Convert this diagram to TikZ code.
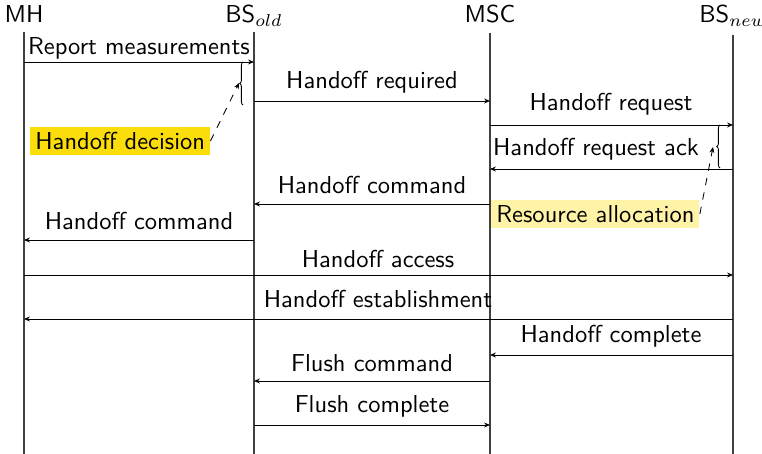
\documentclass[tikz,border=0pt]{standalone}
\usetikzlibrary{arrows.meta,decorations.pathreplacing}
\definecolor{decisionfill}{RGB}{252,221,12}
\definecolor{allocfill}{RGB}{255,243,168}
\begin{document}
\begin{tikzpicture}[x=0.408pt,y=-0.408pt,
  font=\sffamily\fontsize{10}{12}\selectfont,
  lifeline/.style={draw=black!75,line width=0.55pt},
  entity/.style={inner sep=0pt,anchor=base},
  msg/.style={draw,line width=0.35pt,-{Stealth[length=2.4pt,width=2pt]}},
  msglabel/.style={inner sep=0pt,anchor=base},
  bracemark/.style={draw,line width=0.35pt,decorate,decoration={brace,amplitude=1.3pt}},
  note/.style={draw,dashed,line width=0.35pt,-{Stealth[length=2.4pt,width=2pt]}},
  notebox/.style={inner sep=2pt,anchor=west}]
\useasboundingbox (0,0) rectangle (762,454);

% entity names
\node[entity] (mh)   at (24,23)  {MH};
\node[entity] (bso)  at (254,23) {BS$_{old}$};
\node[entity] (msc)  at (490,23) {MSC};
\node[entity] (bsn)  at (733,23) {BS$_{new}$};

% lifelines
\coordinate (mhT) at (24,32);   \coordinate (mhB) at (24,454);
\coordinate (boT) at (254,32);  \coordinate (boB) at (254,454);
\coordinate (msT) at (490,33);  \coordinate (msB) at (490,454);
\coordinate (bnT) at (733,35);  \coordinate (bnB) at (733,454);
\draw[lifeline] (mhT) -- (mhB);
\draw[lifeline] (boT) -- (boB);
\draw[lifeline] (msT) -- (msB);
\draw[lifeline] (bnT) -- (bnB);

% messages
\coordinate (m1a) at (24,62);   \coordinate (m1b) at (254,62);
\draw[msg] (m1a) -- (m1b);
\node[msglabel] (l1) at (139,55) {Report measurements};

\coordinate (m2a) at (254,101); \coordinate (m2b) at (490,101);
\draw[msg] (m2a) -- (m2b);
\node[msglabel] (l2) at (372,89) {Handoff required};

\coordinate (m3a) at (490,125); \coordinate (m3b) at (733,125);
\draw[msg] (m3a) -- (m3b);
\node[msglabel] (l3) at (611,111) {Handoff request};

\coordinate (m4a) at (733,169); \coordinate (m4b) at (490,169);
\draw[msg] (m4a) -- (m4b);
\node[msglabel] (l4) at (596,156) {Handoff request ack};

\coordinate (m5a) at (490,204); \coordinate (m5b) at (254,204);
\draw[msg] (m5a) -- (m5b);
\node[msglabel] (l5) at (372,194) {Handoff command};

\coordinate (m6a) at (254,240); \coordinate (m6b) at (24,240);
\draw[msg] (m6a) -- (m6b);
\node[msglabel] (l6) at (139,230) {Handoff command};

\coordinate (m7a) at (24,275);  \coordinate (m7b) at (733,275);
\draw[msg] (m7a) -- (m7b);
\node[msglabel] (l7) at (378,268) {Handoff access};

\coordinate (m8a) at (733,319); \coordinate (m8b) at (24,319);
\draw[msg] (m8a) -- (m8b);
\node[msglabel] (l8) at (378,308) {Handoff establishment};

\coordinate (m9a) at (733,355); \coordinate (m9b) at (490,355);
\draw[msg] (m9a) -- (m9b);
\node[msglabel] (l9) at (611,343) {Handoff complete};

\coordinate (m10a) at (490,381); \coordinate (m10b) at (254,381);
\draw[msg] (m10a) -- (m10b);
\node[msglabel] (l10) at (372,372) {Flush command};

\coordinate (m11a) at (254,425); \coordinate (m11b) at (490,425);
\draw[msg] (m11a) -- (m11b);
\node[msglabel] (l11) at (372,413) {Flush complete};

% braces marking processing intervals
\coordinate (b1top) at (243,62);  \coordinate (b1bot) at (243,105);
\draw[bracemark] (b1bot) -- (b1top);
\coordinate (b1tip) at (239,83);

\coordinate (b2top) at (720,125); \coordinate (b2bot) at (720,168);
\draw[bracemark] (b2bot) -- (b2top);
\coordinate (b2tip) at (713,147);

% annotations
\node[notebox,fill=decisionfill] (dec) at (30,141) {Handoff decision};
\draw[note] (dec.east) -- (b1tip);

\node[notebox,fill=allocfill] (alloc) at (491,214) {Resource allocation};
\draw[note] (alloc.east) -- (b2tip);
\end{tikzpicture}
\end{document}
